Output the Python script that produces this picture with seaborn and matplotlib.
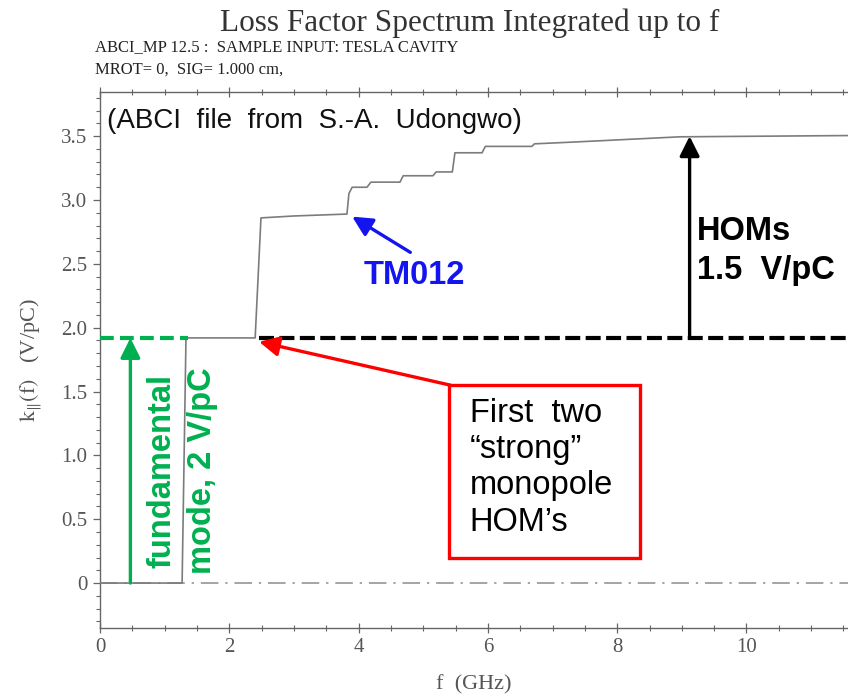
import matplotlib
matplotlib.use("Agg")
import matplotlib.pyplot as plt
from matplotlib.patches import Rectangle
from matplotlib.ticker import MultipleLocator, FixedLocator, FixedFormatter
import pandas as pd
import seaborn as sns

# Integrated longitudinal loss factor k(f) vs. frequency (TESLA cavity, sigma = 1 cm)
freq_ghz = [0.0, 1.27, 1.33, 2.40, 2.49, 3.00, 3.82, 3.85, 3.90, 4.13, 4.19,
            4.64, 4.69, 5.15, 5.20, 5.45, 5.49, 5.91, 5.96, 6.68, 6.72, 7.37,
            8.97, 11.6]
k_loss = [0.0, 0.0, 1.92, 1.92, 2.86, 2.875, 2.89, 3.05, 3.10, 3.10, 3.14,
          3.14, 3.19, 3.19, 3.22, 3.22, 3.37, 3.37, 3.42, 3.42, 3.44, 3.455,
          3.495, 3.505]

x_ticks = [0, 2, 4, 6, 8, 10]
x_tick_labels = ["0", "2", "4", "6", "8", "10"]
y_ticks = [0, 0.5, 1.0, 1.5, 2.0, 2.5, 3.0, 3.5]
y_tick_labels = ["0", "0.5", "1.0", "1.5", "2.0", "2.5", "3.0", "3.5"]

k_fundamental = 1.92      # level after the accelerating mode
k_total = 3.50            # level after all monopole HOMs
f_fund_arrow = 0.47
f_hom_arrow = 9.12
f_tm011 = 2.46            # first strong HOM step
f_tm012 = 3.90

x_max = 11.57
y_min, y_max = -0.352, 3.846

sns.set_style("white")
plt.rcParams["font.family"] = ["Liberation Serif", "DejaVu Serif"]
plt.rcParams["mathtext.fontset"] = "stix"

W, H = 848, 696
fig = plt.figure(figsize=(W / 100, H / 100), dpi=100)
ax = fig.add_axes([100 / W, (H - 628) / H, 1 - 100 / W, (628 - 92) / H])

df = pd.DataFrame({"f": freq_ghz, "k": k_loss})
sns.lineplot(data=df, x="f", y="k", ax=ax, color="#7c7c7c", lw=1.2,
             estimator=None, sort=False, zorder=3)

# zero reference, dash-dot
ax.axhline(0, color="#8c8c8c", lw=1.1, dashes=(11.5, 4.5, 1.5, 4.5), zorder=1)

ax.set_xlim(0, x_max)
ax.set_ylim(y_min, y_max)

green = "#00B050"
sans = ["Liberation Sans", "DejaVu Sans"]
head = "-|>,head_length=0.6,head_width=0.3"

# fundamental mode level and arrow
ax.plot([0, 1.36], [k_fundamental, k_fundamental], color=green, lw=3.0,
        dashes=(3.3, 1.5), solid_capstyle="butt", zorder=4)
ax.annotate("", xy=(f_fund_arrow, k_fundamental), xytext=(f_fund_arrow, 0),
            arrowprops=dict(arrowstyle=head, mutation_scale=20, color=green,
                            lw=2.4, shrinkA=0, shrinkB=0), zorder=5)
ax.text(1.27, 0.88, "fundamental\nmode, 2 V/pC", rotation=90, color=green,
        family=sans, weight="bold", fontsize=23.5, ha="center", va="center",
        multialignment="center", linespacing=1.4, zorder=5)

# HOM level and arrow
ax.plot([f_tm011, x_max], [k_fundamental, k_fundamental], color="black", lw=3.0,
        dashes=(3.6, 1.3), zorder=4)
ax.annotate("", xy=(f_hom_arrow, k_total), xytext=(f_hom_arrow, k_fundamental),
            arrowprops=dict(arrowstyle=head, mutation_scale=20, color="black",
                            lw=2.4, shrinkA=0, shrinkB=0), zorder=5)
ax.text(9.24, 2.60, "HOMs\n1.5  V/pC", color="black", family=sans,
        weight="bold", fontsize=23.5, ha="left", va="center",
        linespacing=1.32, zorder=5)

# TM012 marker
ax.annotate("", xy=(f_tm012, 2.87), xytext=(4.80, 2.59),
            arrowprops=dict(arrowstyle=head, mutation_scale=20, color="#1414F0",
                            lw=2.4, shrinkA=0, shrinkB=0), zorder=5)
ax.text(4.86, 2.41, "TM012", color="#1414F0", family=sans, weight="bold",
        fontsize=23.5, ha="center", va="center", zorder=5)

# first strong monopole HOMs callout
ax.annotate("", xy=(f_tm011, 1.89), xytext=(5.42, 1.55),
            arrowprops=dict(arrowstyle=head, mutation_scale=20, color="#FF0000",
                            lw=2.4, shrinkA=0, shrinkB=0), zorder=5)
ax.add_patch(Rectangle((5.40, 0.197), 2.95, 1.354, facecolor="white",
                       edgecolor="#FF0000", lw=2.4, zorder=6))
ax.text(5.72, 1.45, "First  two\n\u201cstrong\u201d\nmonopole\nHOM\u2019s",
        color="black", family=sans, fontsize=23.5, ha="left", va="top",
        linespacing=1.22, zorder=7)

ax.text(0.11, 3.62, "(ABCI  file  from  S.-A.  Udongwo)", color="#111111",
        family=sans, fontsize=20, ha="left", va="center", zorder=5)

# axes frame and ticks
for side in ["left", "top", "bottom"]:
    ax.spines[side].set_visible(True)
    ax.spines[side].set_color("#666666")
    ax.spines[side].set_linewidth(1.0)
ax.spines["right"].set_visible(False)

ax.xaxis.set_major_locator(FixedLocator(x_ticks))
ax.xaxis.set_major_formatter(FixedFormatter(x_tick_labels))
ax.xaxis.set_minor_locator(MultipleLocator(0.5))
ax.yaxis.set_major_locator(FixedLocator(y_ticks))
ax.yaxis.set_major_formatter(FixedFormatter(y_tick_labels))
ax.yaxis.set_minor_locator(MultipleLocator(0.1))

ax.tick_params(axis="x", which="both", direction="inout", top=True, bottom=True,
               color="#666666", labelcolor="#555555", labelsize=15, pad=4)
ax.tick_params(axis="x", which="major", length=7, width=0.9)
ax.tick_params(axis="x", which="minor", length=4, width=0.8)
ax.tick_params(axis="y", which="both", direction="out", left=True,
               color="#666666", labelcolor="#555555", labelsize=15, pad=4)
ax.tick_params(axis="y", which="major", length=5, width=0.9)
ax.tick_params(axis="y", which="minor", length=3, width=0.8)

ax.set_xlabel("f  (GHz)", fontsize=16, color="#555555", labelpad=13)
ax.set_ylabel(r"$\mathrm{k}_{\|}\mathrm{(f)}$   (V/pC)", fontsize=16,
              color="#555555", labelpad=12)

fig.text(0.554, 1 - 23 / H, "Loss Factor Spectrum Integrated up to f",
         fontsize=22.5, color="#333333", ha="center", va="center")
fig.text(95 / W, 1 - 47 / H, "ABCI_MP 12.5 :  SAMPLE INPUT: TESLA CAVITY",
         fontsize=12, color="#222222", ha="left", va="center")
fig.text(95 / W, 1 - 70 / H, "MROT= 0,  SIG= 1.000 cm,",
         fontsize=12, color="#222222", ha="left", va="center")

fig.savefig("out.png", dpi=100, facecolor="white")
